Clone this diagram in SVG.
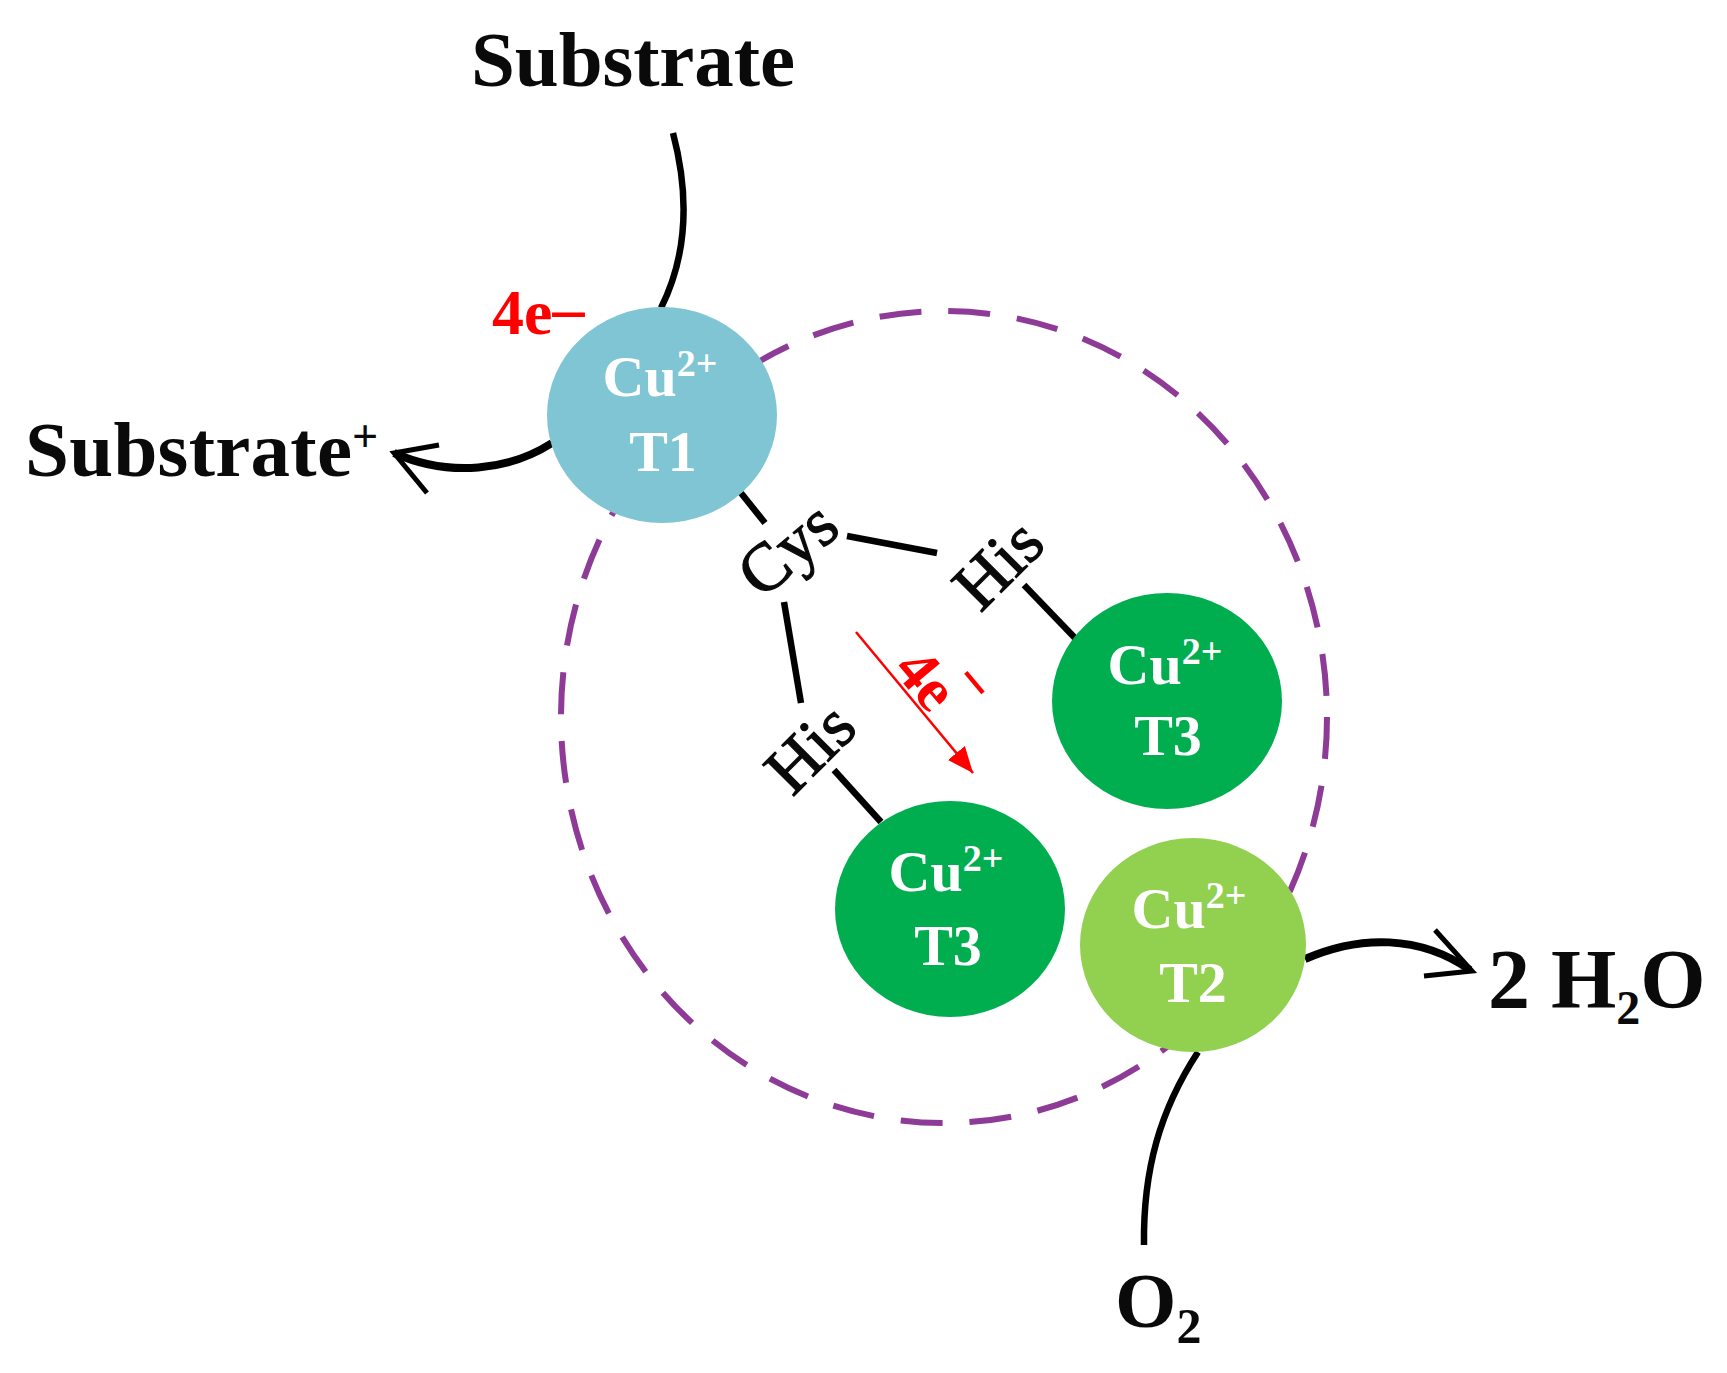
<svg xmlns="http://www.w3.org/2000/svg" width="1727" height="1373" viewBox="0 0 1727 1373">
<style>
text{font-family:"Liberation Serif","Times New Roman",serif;font-weight:bold}
.lbl{font-size:79px;fill:#0a0a0a}
.res{font-size:68px;fill:#0a0a0a;font-weight:normal;stroke:#0a0a0a;stroke-width:1.2px;text-anchor:middle}
.cu{font-size:58px;fill:#fff;text-anchor:middle}
.sup{font-size:38px}
.red{fill:#f00}
.c{fill:none;stroke:#000;stroke-width:6.5;stroke-linecap:butt}
.h{fill:none;stroke:#000;stroke-width:5;stroke-linejoin:miter}
</style>
<defs>
<marker id="redhead" markerUnits="userSpaceOnUse" markerWidth="30" markerHeight="30" refX="26" refY="11" orient="auto"><path d="M0,0L26,11L0,22Z" fill="#f00"/></marker>
</defs>
<ellipse id="active-site" cx="944" cy="717" rx="383" ry="406" fill="none" stroke="#8e3b97" stroke-width="6" stroke-dasharray="42 27"/>
<g id="connectors">
<path class="c" d="M673,133C688,190 690,250 661,308"/>
<path class="c" style="stroke-width:8" d="M552,443C510,470 450,478 394,453"/>
<path class="h" d="M439,445L394,453L427,493"/>
<path class="c" d="M741,493L765,523"/>
<path class="c" d="M847,536L937,553"/>
<path class="c" d="M1024,585L1075,638"/>
<path class="c" d="M784,602L801,703"/>
<path class="c" d="M834,770L881,822"/>
<path class="c" style="stroke-width:8" d="M1305,959C1360,935 1420,935 1470,970"/>
<path class="h" d="M1435,930L1472,971L1424,976"/>
<path class="c" d="M1198,1052C1160,1110 1143,1170 1144,1245"/>
<path d="M856,632L973,773" fill="none" stroke="#f00" stroke-width="2.5" marker-end="url(#redhead)"/>
</g>
<g id="cu-t1"><ellipse cx="662" cy="415" rx="115" ry="108" fill="#7fc5d3"/>
<text class="cu" x="660" y="396">Cu<tspan class="sup" dy="-20">2+</tspan></text><text class="cu" x="663" y="471">T1</text></g>
<g id="cu-t3-right"><ellipse cx="1167" cy="701" rx="115" ry="108" fill="#00ae4f"/>
<text class="cu" x="1165" y="684">Cu<tspan class="sup" dy="-20">2+</tspan></text><text class="cu" x="1168" y="755">T3</text></g>
<g id="cu-t3-lower"><ellipse cx="950" cy="909" rx="115" ry="108" fill="#00ae4f"/>
<text class="cu" x="946" y="891">Cu<tspan class="sup" dy="-20">2+</tspan></text><text class="cu" x="948" y="965">T3</text></g>
<g id="cu-t2"><ellipse cx="1193" cy="945" rx="113" ry="107" fill="#92d050"/>
<text class="cu" x="1189" y="928">Cu<tspan class="sup" dy="-20">2+</tspan></text><text class="cu" x="1193" y="1002">T2</text></g>
<g id="labels">
<text class="lbl" x="471" y="86" textLength="324">Substrate</text>
<text class="lbl" x="25" y="476" textLength="327">Substrate</text>
<text class="lbl" x="352" y="452" style="font-size:46px">+</text>
<text class="lbl" x="1488" y="1008" style="font-size:84px">2 H<tspan style="font-size:48px" dy="16">2</tspan><tspan dy="-16">O</tspan></text>
<text class="lbl" x="1115" y="1327">O<tspan style="font-size:50px" dy="16">2</tspan></text>
<text class="red" x="492" y="334" font-size="64">4e<tspan dy="-4">–</tspan></text>
<text class="res" transform="translate(802,566) rotate(-40)">Cys</text>
<text class="res" transform="translate(1014,580) rotate(-45)">His</text>
<text class="res" transform="translate(826,764) rotate(-45)">His</text>
<text class="red" transform="translate(892,670) rotate(50)" font-size="62">4e</text>
<text class="red" transform="translate(955,682) rotate(50)" font-size="62" textLength="26" lengthAdjust="spacingAndGlyphs">–</text>
</g>
</svg>
